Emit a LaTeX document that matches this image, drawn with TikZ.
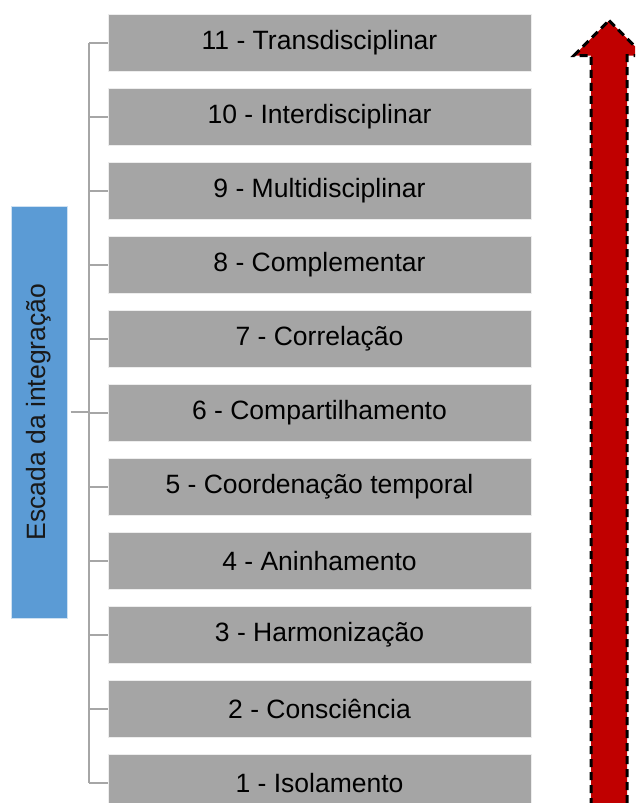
\documentclass[tikz,border=0pt]{standalone}
\usepackage{fontspec}
\setmainfont{Liberation Sans}
\usetikzlibrary{positioning}
\definecolor{lvlgray}{HTML}{A5A5A5}
\definecolor{escblue}{HTML}{5B9BD5}
\definecolor{upred}{HTML}{C00000}
\definecolor{bracegray}{HTML}{A6A6A6}
\tikzstyle{lvl} = [rectangle, draw=white!80!lvlgray, fill=lvlgray, line width=1pt,
    minimum width=423pt, minimum height=57pt, inner sep=0pt, text=black,
    font=\fontsize{26.5}{30}\selectfont]
\tikzstyle{esc} = [rectangle, draw=white!70!escblue, fill=escblue, line width=1pt,
    rotate=90, minimum width=412pt, minimum height=56pt, inner sep=0pt,
    text=black!90, font=\fontsize{26.5}{30}\selectfont]
\begin{document}
\begin{tikzpicture}[x=1pt,y=-1pt,node distance=74pt,
                    brace/.style={draw=bracegray,line width=2.5pt}]
  \useasboundingbox (0,0) rectangle (635,803);
  \clip (0,0) rectangle (635,803);

  \node[lvl] (11) at (319.5,43) {11 - Transdisciplinar};
  \node[lvl] (10) [below of=11] {10 - Interdisciplinar};
  \node[lvl] (9)  [below of=10] {9 - Multidisciplinar};
  \node[lvl] (8)  [below of=9]  {8 - Complementar};
  \node[lvl] (7)  [below of=8]  {7 - Correlação};
  \node[lvl] (6)  [below of=7]  {6 - Compartilhamento};
  \node[lvl] (5)  [below of=6]  {5 - Coordenação temporal};
  \node[lvl] (4)  [below of=5]  {4 - Aninhamento};
  \node[lvl] (3)  [below of=4]  {3 - Harmonização};
  \node[lvl] (2)  [below of=3]  {2 - Consciência};
  \node[lvl] (1)  [below of=2]  {1 - Isolamento};

  \node[esc] (esc) at (39,412) {Escada da integração};
  \coordinate (sp) at (89,0);

  % bracket
  \path[brace] (11.west -| sp) edge (1.west -| sp)
        (esc.south) edge [shorten <=3pt] (esc.south -| sp)
        (11.west) edge (11.west -| sp)
        (10.west) edge (10.west -| sp)
        (9.west)  edge (9.west -| sp)
        (8.west)  edge (8.west -| sp)
        (7.west)  edge (7.west -| sp)
        (6.west)  edge (6.west -| sp)
        (5.west)  edge (5.west -| sp)
        (4.west)  edge (4.west -| sp)
        (3.west)  edge (3.west -| sp)
        (2.west)  edge (2.west -| sp)
        (1.west)  edge (1.west -| sp);

  % arrow
  \filldraw[fill=upred, draw=black, line width=3pt, dash pattern=on 8pt off 5pt]
    (609,20.5) -- (644,55.5) -- (627,55.5) -- (627,815) -- (591,815)
    -- (591,55.5) -- (574,55.5) -- cycle;
\end{tikzpicture}
\end{document}
